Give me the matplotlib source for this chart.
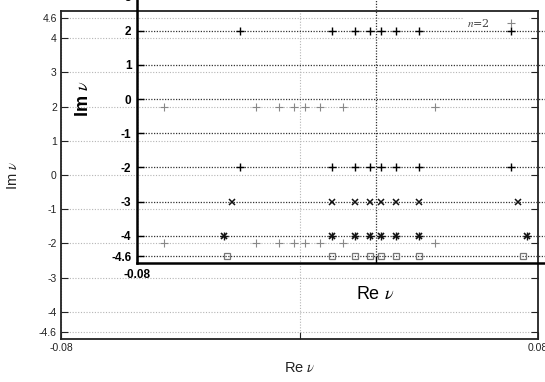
import matplotlib
matplotlib.use("Agg")
import matplotlib.pyplot as plt

plt.rcParams['mathtext.fontset'] = 'stix'
plt.rcParams['font.family'] = ['Liberation Sans', 'DejaVu Sans']

# ---- data ----
x_n2 = [-0.0455, -0.0147, -0.0068, -0.002, 0.002, 0.0068, 0.0147, 0.0455]
y_n2_up = [2, 2, 2, 2, 2, 2, 2, 2]
y_n2_dn = [-2, -2, -2, -2, -2, -2, -2, -2]
x_cross = [-0.048, -0.0147, -0.0068, -0.002, 0.002, 0.0068, 0.0147, 0.0478]
y_cross = [-3, -3, -3, -3, -3, -3, -3, -3]
x_star = [-0.0508, -0.0147, -0.0068, -0.002, 0.002, 0.0068, 0.0147, 0.0508]
y_star = [-4, -4, -4, -4, -4, -4, -4, -4]
x_square = [-0.0498, -0.0147, -0.0068, -0.002, 0.002, 0.0068, 0.0147, 0.0495]
y_square = [-4.6, -4.6, -4.6, -4.6, -4.6, -4.6, -4.6, -4.6]

bg_yticks = [4.6, 4, 3, 2, 1, 0, -1, -2, -3, -4, -4.6]
bg_yticklabels = ['4.6', '4', '3', '2', '1', '0', '-1', '-2', '-3', '-4', '-4.6']
fg_yticks = [4.6, 4, 3, 2, 1, 0, -1, -2, -3, -4, -4.6]
fg_yticklabels = ['4.6', '4', '3', '2', '1', '0', '-1', '-2', '-3', '-4', '-4.6']
xticks = [-0.08, 0, 0.08]
bg_xticklabels = ['-0.08', '', '0.08']
fg_xticklabels = ['-0.08', '', '']

fig = plt.figure(figsize=(5.45, 3.82), dpi=100)

W, H = 545, 382
def rect(l, r, t, b):
    return [l / W, (H - b) / H, (r - l) / W, (b - t) / H]

# ---- background axes ----
ax = fig.add_axes(rect(61, 538, 11, 339))
ax.set_xlim(-0.08, 0.08)
ax.set_ylim(-4.8, 4.8)
ax.set_yticks(bg_yticks)
ax.set_yticklabels(bg_yticklabels)
ax.set_xticks(xticks)
ax.set_xticklabels(bg_xticklabels)
ax.tick_params(direction='in', length=5, width=0.8, labelsize=7.5, colors='#222222',
               right=True, top=False, pad=3)
ax.grid(True, color='#b5b5b5', linestyle=(0, (1, 1.5)), linewidth=0.8)
for s in ax.spines.values():
    s.set_linewidth(1.3)
    s.set_color('#222222')
ax.plot(x_n2, y_n2_up, linestyle='none', marker='+', ms=5.5, mew=0.8, color='#888888', label='$n$=2')
ax.plot(x_n2, y_n2_dn, linestyle='none', marker='+', ms=5.5, mew=0.8, color='#888888')
leg = ax.legend(loc='upper right', bbox_to_anchor=(0.985, 1.0), frameon=True, fancybox=False,
                edgecolor='none', framealpha=1, markerfirst=False, fontsize=8,
                handlelength=2.6, handletextpad=0.6, borderaxespad=0.2, borderpad=0.3)
for t in leg.get_texts():
    t.set_fontfamily('serif')
    t.set_color('#444444')
ax.set_xlabel(r'Re $\nu$', fontsize=10.5, labelpad=6, color='#222222')
ax.set_ylabel(r'Im $\nu$', fontsize=10.5, labelpad=14, color='#222222')

# ---- foreground axes (shifted copy) ----
fx = fig.add_axes(rect(137, 137 + 477, 263 - 328, 263))
fx.patch.set_alpha(0)
fx.set_xlim(-0.08, 0.08)
fx.set_ylim(-4.8, 4.8)
fx.set_yticks(fg_yticks)
fx.set_yticklabels(fg_yticklabels)
fx.set_xticks(xticks)
fx.set_xticklabels(fg_xticklabels)
fx.tick_params(direction='in', length=5, width=1.0, labelsize=8.5, colors='black', pad=4)
for lab in fx.get_yticklabels() + fx.get_xticklabels():
    lab.set_fontweight('bold')
fx.grid(True, color='#333333', linestyle=(0, (1, 1.2)), linewidth=0.9)
for s in fx.spines.values():
    s.set_linewidth(1.8)
    s.set_color('black')
fx.plot(x_n2, y_n2_up, linestyle='none', marker='+', ms=6, mew=1.0, color='black')
fx.plot(x_n2, y_n2_dn, linestyle='none', marker='+', ms=6, mew=1.0, color='black')
fx.plot(x_cross, y_cross, linestyle='none', marker='x', ms=5, mew=1.1, color='#111111')
fx.plot(x_star, y_star, linestyle='none', marker='x', ms=5, mew=1.2, color='#111111')
fx.plot(x_star, y_star, linestyle='none', marker='+', ms=5.5, mew=1.0, color='#111111')
fx.plot(x_square, y_square, linestyle='none', marker='s', ms=4.5, mew=0.9,
        markerfacecolor='none', markeredgecolor='#777777')
fx.set_xlabel(r'Re $\nu$', fontsize=13, labelpad=4)
fx.set_ylabel(r'Im $\nu$', fontsize=13, labelpad=14, fontweight='bold')

fig.savefig('out.png', dpi=100)
